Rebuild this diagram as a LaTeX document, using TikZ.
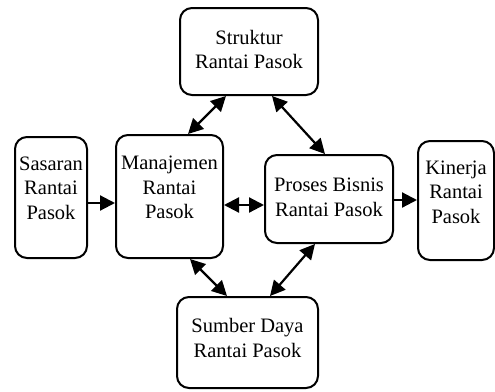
\documentclass[tikz,border=0pt]{standalone}
\usepackage{fontspec}
\setmainfont{Liberation Serif}
\usetikzlibrary{arrows.meta}
\begin{document}
\begin{tikzpicture}[x=1pt,y=-1pt,>={Triangle[length=15pt,width=15pt]},
	blok/.style={draw,line width=2pt,rounded corners=12pt,inner sep=0pt},
	teks/.style={align=center,font=\fontsize{20.5}{24.5}\selectfont},
	panah/.style={line width=2.2pt}]
	\useasboundingbox (0,0) rectangle (495,391);
	% kotak
	\node[blok,minimum width=138pt,minimum height=87pt] (struktur) at (249,51.5) {};
	\node[blok,minimum width=72pt,minimum height=121pt] (sasaran) at (51,197.5) {};
	\node[blok,minimum width=107pt,minimum height=123pt] (manajemen) at (169.5,196.5) {};
	\node[blok,minimum width=128pt,minimum height=88pt] (proses) at (329,199) {};
	\node[blok,minimum width=76pt,minimum height=119pt] (kinerja) at (456,200.5) {};
	\node[blok,minimum width=141pt,minimum height=91pt] (sumber) at (247.5,342.5) {};
	% teks
	\node[teks] (struktur-t) at (249,49.5) {Struktur\\Rantai Pasok};
	\node[teks] (sasaran-t) at (51,188) {Sasaran\\Rantai\\Pasok};
	\node[teks] (manajemen-t) at (169.5,187.5) {Manajemen\\Rantai\\Pasok};
	\node[teks] (proses-t) at (329,197.5) {Proses Bisnis\\Rantai Pasok};
	\node[teks] (kinerja-t) at (456,192) {Kinerja\\Rantai\\Pasok};
	\node[teks] (sumber-t) at (247.5,338) {Sumber Daya\\Rantai Pasok};
	% panah
	\draw[panah,->] ([yshift=-5.5pt]sasaran.east) -- ([yshift=-5.5pt]sasaran.east -| manajemen.west);
	\draw[panah,<->] ([yshift=-8.5pt]manajemen.east) -- ([yshift=-8.5pt]manajemen.east -| proses.west);
	\draw[panah,->] ([yshift=-1pt]proses.east) -- ([yshift=-1pt]proses.east -| kinerja.west);
	\draw[panah,<->] ([xshift=-23pt]struktur.south) -- ([xshift=18.5pt]manajemen.north);
	\draw[panah,<->] ([xshift=23pt]struktur.south) -- ([xshift=-4pt]proses.north);
	\draw[panah,<->] ([xshift=20.5pt]manajemen.south) -- ([xshift=-20.5pt]sumber.north);
	\draw[panah,<->] ([xshift=-14pt]proses.south) -- ([xshift=22.5pt]sumber.north);
\end{tikzpicture}
\end{document}
